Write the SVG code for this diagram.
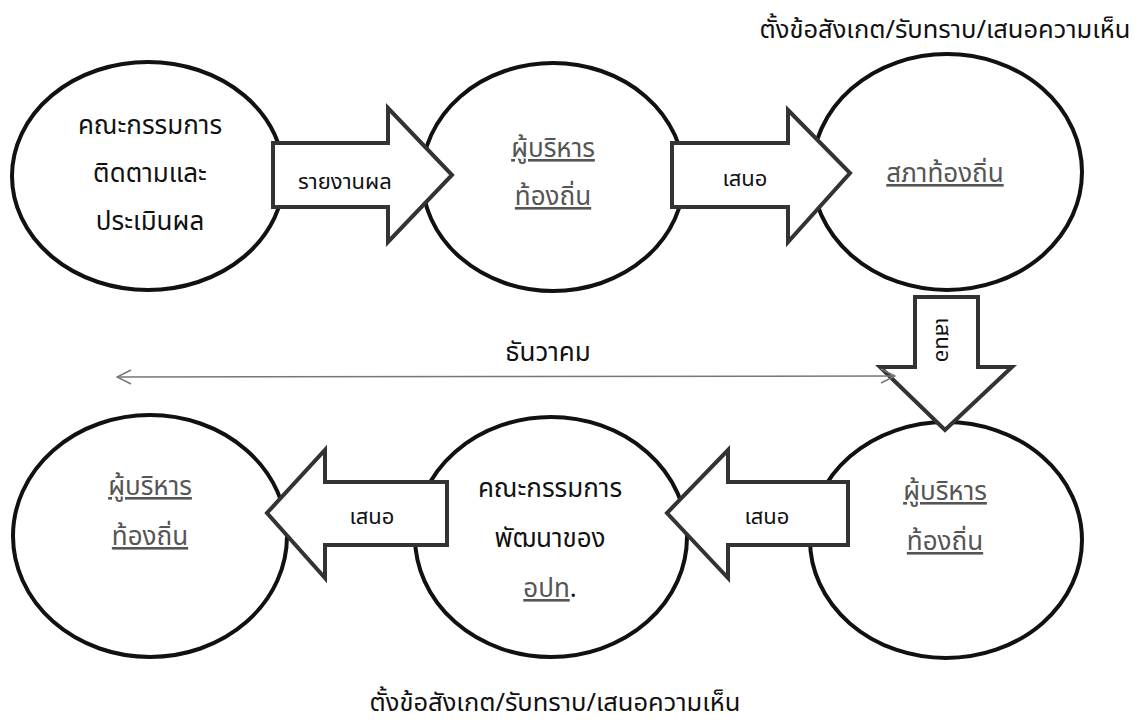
<svg xmlns="http://www.w3.org/2000/svg" width="1139" height="725" viewBox="0 0 1139 725">
<defs>
<style>
.node ellipse{fill:#fff;stroke:#111;stroke-width:4}
.blk{fill:#fff;stroke:#333;stroke-width:4;stroke-linejoin:miter}
text{font-family:"Noto Sans Thai","Noto Sans","Liberation Sans",sans-serif;fill:#111;text-anchor:middle}
.t{font-size:26px}
.u{fill:#555;text-decoration:underline}
.lab{font-size:22px}
.ttl{font-size:25.5px}
</style>
<marker id="open" viewBox="0 0 20 20" refX="19" refY="10" markerWidth="20" markerHeight="20" markerUnits="userSpaceOnUse" orient="auto-start-reverse">
<path d="M5,3 L19,10 L5,17" fill="none" stroke="#777" stroke-width="1.5"/>
</marker>
</defs>
<rect width="1139" height="725" fill="#fff"/>
<g id="n1" class="node">
<ellipse cx="148" cy="176" rx="136" ry="114"/>
<text class="t" x="150" y="134">คณะกรรมการ</text>
<text class="t" x="150" y="182">ติดตามและ</text>
<text class="t" x="150" y="230">ประเมินผล</text>
</g>
<g id="n2" class="node">
<ellipse cx="553" cy="177" rx="131" ry="114"/>
<text class="t u" x="553" y="157">ผู้บริหาร</text>
<text class="t u" x="553" y="205">ท้องถิ่น</text>
</g>
<g id="n3" class="node">
<ellipse cx="947" cy="172" rx="135" ry="118"/>
<text class="t u" x="945" y="182">สภาท้องถิ่น</text>
</g>
<g id="n4" class="node">
<ellipse cx="946" cy="540" rx="136" ry="118"/>
<text class="t u" x="945" y="500">ผู้บริหาร</text>
<text class="t u" x="945" y="550">ท้องถิ่น</text>
</g>
<g id="n5" class="node">
<ellipse cx="551" cy="537" rx="136" ry="120"/>
<text class="t" x="550" y="497">คณะกรรมการ</text>
<text class="t" x="550" y="547">พัฒนาของ</text>
<text class="t" x="550" y="597"><tspan class="u">อปท</tspan>.</text>
</g>
<g id="n6" class="node">
<ellipse cx="150" cy="536" rx="137" ry="121"/>
<text class="t u" x="150" y="495">ผู้บริหาร</text>
<text class="t u" x="150" y="545">ท้องถิ่น</text>
</g>
<g id="connectors">
<path class="blk" d="M273,143 L388,143 L388,108 L452,175 L388,242 L388,207 L273,207 Z"/>
<text class="lab" x="345" y="189">รายงานผล</text>
<path class="blk" d="M672,143 L788,143 L788,110 L850,173 L788,242 L788,207 L672,207 Z"/>
<text class="lab" x="745" y="186">เสนอ</text>
<path class="blk" d="M915,297 L978,297 L978,367 L1012,367 L945,430 L880,367 L915,367 Z"/>
<text class="lab" transform="translate(943,340) rotate(90)" x="0" y="7">เสนอ</text>
<path class="blk" d="M848,482 L728,482 L728,450 L667,513 L728,578 L728,545 L848,545 Z"/>
<text class="lab" x="767" y="524">เสนอ</text>
<path class="blk" d="M447,482 L325,482 L325,450 L267,513 L325,578 L325,545 L447,545 Z"/>
<text class="lab" x="372" y="524">เสนอ</text>
<line x1="117" y1="377" x2="895" y2="376" stroke="#777" stroke-width="1.5" marker-start="url(#open)" marker-end="url(#open)"/>
<text class="t" x="548" y="361">ธันวาคม</text>
</g>
<text class="ttl" x="945" y="38">ตั้งข้อสังเกต/รับทราบ/เสนอความเห็น</text>
<text class="ttl" x="555" y="711">ตั้งข้อสังเกต/รับทราบ/เสนอความเห็น</text>
</svg>
